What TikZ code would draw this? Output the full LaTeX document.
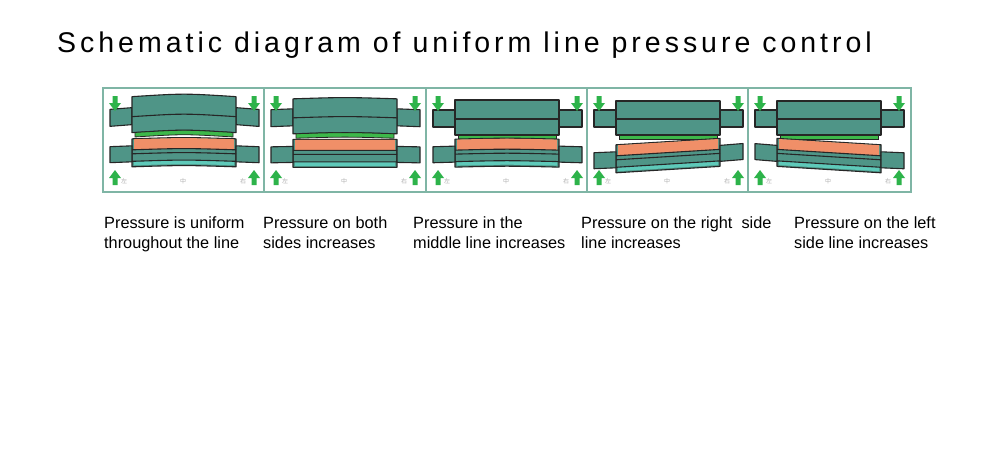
\documentclass[tikz,border=0pt]{standalone}
\usepackage{fontspec}
\setmainfont{Liberation Sans}
\newfontfamily\titlefont[LetterSpace=14]{Liberation Sans}
\newfontfamily\cjk{Noto Sans CJK SC}
\begin{document}
\begin{tikzpicture}[x=1pt,y=-1pt,
  roll/.style={fill=rollc,draw=black!85,line width=1.1pt,line join=round},
  captxt/.style={font=\fontsize{16.3}{18}\selectfont,anchor=west,inner sep=0pt},
  lab/.style={font=\cjk\fontsize{6}{6}\selectfont,text=gray!60,inner sep=0pt}]
\definecolor{rollc}{HTML}{4F9587}
\definecolor{greens}{HTML}{3DB84A}
\definecolor{orng}{HTML}{F08F68}
\definecolor{cyn}{HTML}{5EC9B9}
\definecolor{arr}{HTML}{2DB34A}
\definecolor{frm}{HTML}{7FB5A5}
\useasboundingbox (0,0) rectangle (1000,450);
\fill[white] (0,0) rectangle (1000,450);
\node[anchor=west,inner sep=0pt,font=\titlefont\fontsize{28.5}{30}\selectfont] (title) at (57,45) {Schematic diagram of uniform line pressure control};
\draw[frm,line width=1.3pt] (103,88) rectangle (911,192);
\foreach \xx in {264,426,587,748} \draw[frm,line width=1.3pt] (\xx,88) -- (\xx,192);
\pgfmathsetmacro\T{0}\pgfmathsetmacro\BL{0}\pgfmathsetmacro\BR{0}\pgfmathsetmacro\BM{0}
\tikzset{declare function={ft(\x)=-\T*4*(\x/162)*(1-\x/162);
  fb(\x)=\BL+(\BR-\BL)*\x/162+\BM*4*(\x/162)*(1-\x/162);}}
\newcommand\myband[6]{%
  \pgfmathsetmacro\fa{#1(#2)}\pgfmathsetmacro\fbb{#1(#3)}%
  \pgfmathsetmacro\fm{#1((#2+#3)/2)}%
  \pgfmathsetmacro\cc{2*\fm-(\fa+\fbb)/2}%
  \pgfmathsetmacro\mm{(#2+#3)/2}%
  \path[#6] (#2,#4+\fa) .. controls (\mm,#4+\cc) .. (#3,#4+\fbb) -- (#3,#5+\fbb) .. controls (\mm,#5+\cc) .. (#2,#5+\fa) -- cycle;}
\newcommand\myline[4]{%
  \pgfmathsetmacro\fa{#1(#2)}\pgfmathsetmacro\fbb{#1(#3)}%
  \pgfmathsetmacro\fm{#1((#2+#3)/2)}%
  \pgfmathsetmacro\cc{2*\fm-(\fa+\fbb)/2}%
  \pgfmathsetmacro\mm{(#2+#3)/2}%
  \draw[black!85,line width=1.1pt] (#2,#4+\fa) .. controls (\mm,#4+\cc) .. (#3,#4+\fbb);}
\newcommand\darrow[2]{\fill[arr] (#1-2.5,#2) -- (#1+2.5,#2) -- (#1+2.5,#2+7) -- (#1+6,#2+7) -- (#1,#2+15) -- (#1-6,#2+7) -- (#1-2.5,#2+7) -- cycle;}
\newcommand\uarrow[2]{\fill[arr] (#1-2.5,#2) -- (#1+2.5,#2) -- (#1+2.5,#2-7) -- (#1+6,#2-7) -- (#1,#2-15) -- (#1-6,#2-7) -- (#1-2.5,#2-7) -- cycle;}
\newcommand\mypanel[6]{%
\begin{scope}[shift={(#1,0)}]
 \pgfmathsetmacro\T{#2}\pgfmathsetmacro\BL{#3}\pgfmathsetmacro\BR{#4}\pgfmathsetmacro\BM{#5}
 \myband{ft}{7}{29}{110}{127}{roll}
 \myband{ft}{133}{156}{110}{127}{roll}
 \myband{ft}{29}{133}{#6}{135}{roll}
 \myline{ft}{29}{133}{119}
 \myband{ft}{32}{130}{135}{139.5}{fill=greens,draw=black!85,line width=0.8pt}
 \myband{fb}{29}{133}{140}{168}{roll}
 \myband{fb}{31}{131}{140.5}{151}{fill=orng}
 \myband{fb}{31}{131}{162.5}{166.5}{fill=cyn}
 \myband{fb}{7}{29}{147}{163}{roll}
 \myband{fb}{133}{156}{147}{163}{roll}
 \myline{fb}{29}{133}{151}
 \myline{fb}{29}{133}{155}
 \myline{fb}{29}{133}{162.5}
 \darrow{12}{96}\darrow{151}{96}
 \uarrow{12}{185}\uarrow{151}{185}
 \node[lab] at (21,181) {左};\node[lab] at (80,181) {中};\node[lab] at (140,181) {右};
\end{scope}}
\mypanel{103}{4}{0}{0}{-2}{99}
\mypanel{264}{2}{0}{0}{-1}{100}
\mypanel{426}{0}{0}{0}{-1.5}{100}
\mypanel{587}{0}{6}{-4}{1}{101}
\mypanel{748}{0}{-4}{6}{1}{101}
\node[captxt,anchor=base west] (c1a) at (104,228) {Pressure is uniform};
\node[captxt,anchor=base west] (c1b) at (104,248) {throughout the line};
\node[captxt,anchor=base west] (c2a) at (263,228) {Pressure on both};
\node[captxt,anchor=base west] (c2b) at (263,248) {sides increases};
\node[captxt,anchor=base west] (c3a) at (413,228) {Pressure in the};
\node[captxt,anchor=base west] (c3b) at (413,248) {middle line increases};
\node[captxt,anchor=base west] (c4a) at (581,228) {Pressure on the right\ \ side};
\node[captxt,anchor=base west] (c4b) at (581,248) {line increases};
\node[captxt,anchor=base west] (c5a) at (794,228) {Pressure on the left};
\node[captxt,anchor=base west] (c5b) at (794,248) {side line increases};
\end{tikzpicture}
\end{document}
